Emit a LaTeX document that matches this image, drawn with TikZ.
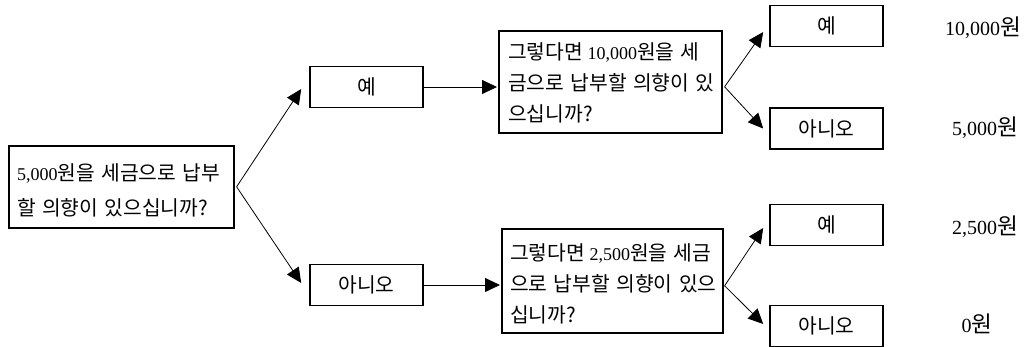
\documentclass[tikz,border=0pt]{standalone}
\usepackage{fontspec}
\setmainfont{Liberation Serif}
\newfontfamily\kr[Scale=1.13,WordSpace=1.4]{Noto Sans CJK KR}
\usetikzlibrary{arrows.meta,calc}
\newcommand{\K}[1]{{\kr #1}}
\tikzset{
  x=1pt, y=-1pt,
  frame/.style={draw, line width=1.6pt, anchor=north west, inner sep=0pt},
  qtext/.style={align=left, anchor=west, inner sep=0pt},
  ansbox/.style={draw, line width=1.6pt, minimum width=113pt, minimum height=41pt,
    inner sep=0pt, font=\fontsize{18pt}{20pt}\selectfont},
  val/.style={font=\fontsize{20pt}{20pt}\selectfont, inner sep=0pt},
  arr/.style={line width=0.8pt, -{Triangle[length=15pt,width=14pt]}}
}
\begin{document}
\begin{tikzpicture}
\useasboundingbox (0,0) rectangle (1026,347);
% root question
\node[frame, minimum width=225pt, minimum height=82pt] (root) at (8,145) {};
\node[qtext, font=\fontsize{18pt}{35pt}\selectfont] (roott)
  at ([xshift=9pt,yshift=-3.5pt]root.west)
  {5,000\K{원을 세금으로 납부}\\\K{할 의향이 있으십니까?}};
% second level
\node[ansbox] (yes1) at (366.5,87) {\K{예}};
\node[ansbox] (no1) at (366.5,285) {\K{아니오}};
% follow-up questions
\node[frame, minimum width=223pt, minimum height=102pt] (q1) at (498,30) {};
\node[qtext, font=\fontsize{18pt}{31pt}\selectfont] (q1t)
  at ([xshift=10pt,yshift=-1pt]q1.west)
  {\K{그렇다면} 10,000\K{원을 세}\\\K{금으로 납부할 의향이 있}\\\K{으십니까?}};
\node[frame, minimum width=221pt, minimum height=104pt] (q2) at (501,228) {};
\node[qtext, font=\fontsize{18pt}{31pt}\selectfont] (q2t)
  at ([xshift=9pt,yshift=-3pt]q2.west)
  {\K{그렇다면} 2,500\K{원을 세금}\\\K{으로 납부할 의향이 있으}\\\K{십니까?}};
% third level
\node[ansbox] (y2) at (826.5,26) {\K{예}};
\node[ansbox] (n2) at (826.5,128.5) {\K{아니오}};
\node[ansbox] (y3) at (826.5,225) {\K{예}};
\node[ansbox] (n3) at (826.5,326) {\K{아니오}};
% values
\node[val] (v1) at (983,28) {10,000\K{원}};
\node[val] (v2) at (985,128) {5,000\K{원}};
\node[val] (v3) at (985,227) {2,500\K{원}};
\node[val] (v4) at (977,324) {0\K{원}};
% connectors
\draw[arr] ([xshift=2pt]root.east) -- ([xshift=-8pt,yshift=-2pt]yes1.west);
\draw[arr] ([xshift=2pt]root.east) -- ([xshift=-8pt,yshift=2pt]no1.west);
\draw[arr] (yes1.east) -- ([xshift=-1pt]q1.west |- yes1.east);
\draw[arr] (no1.east) -- ([xshift=-1pt]q2.west |- no1.east);
\draw[arr] ([xshift=2pt,yshift=-5pt]q1.east) -- ([xshift=-6pt,yshift=-6pt]y2.west);
\draw[arr] ([xshift=2pt,yshift=-5pt]q1.east) -- ([xshift=-6pt]n2.west);
\draw[arr] ([xshift=1pt,yshift=-5pt]q2.east) -- ([xshift=-6pt,yshift=-3pt]y3.west);
\draw[arr] ([xshift=1pt,yshift=-5pt]q2.east) -- ([xshift=-6pt,yshift=2pt]n3.west);
\end{tikzpicture}
\end{document}
